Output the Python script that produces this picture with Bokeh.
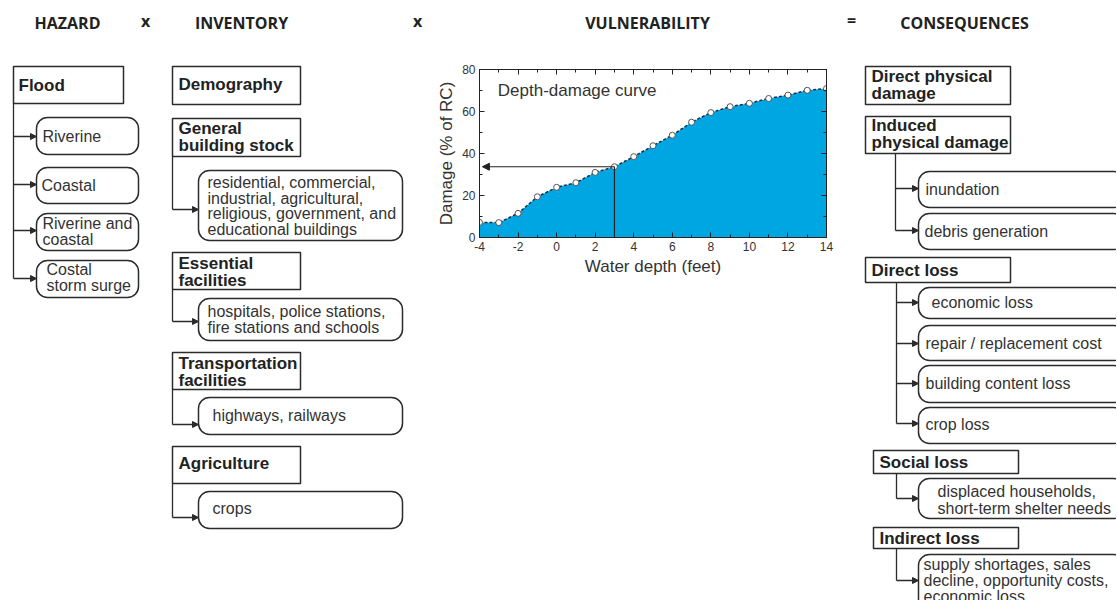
from bokeh.plotting import figure
from bokeh.layouts import column, row
from bokeh.models import Range1d, LinearAxis, Arrow, NormalHead, FixedTicker, ColumnDataSource
from bokeh.embed import file_html
from bokeh.resources import INLINE
from bokeh.core.properties import value

# ---------------- data ----------------
DEPTH_FT = [-4, -3, -2, -1, 0, 1, 2, 3, 4, 5, 6, 7, 8, 9, 10, 11, 12, 13, 14]
DAMAGE_PCT = [7.2, 7.1, 11.5, 19.4, 23.9, 26.1, 31.0, 33.7, 38.5, 43.7, 48.7,
              54.9, 59.5, 62.3, 63.9, 66.2, 67.8, 70.1, 70.9]
X_TICKS = [-4, -2, 0, 2, 4, 6, 8, 10, 12, 14]
X_TICK_LABELS = ["-4", "-2", "0", "2", "4", "6", "8", "10", "12", "14"]
Y_TICKS = [0, 20, 40, 60, 80]
Y_MINOR = [10, 30, 50, 70]
EXAMPLE_DEPTH = 3
CURVE_LABEL = "Depth-damage curve"
X_LABEL = "Water depth (feet)"
Y_LABEL = "Damage (% of RC)"

HEADERS = ["HAZARD", "x", "INVENTORY", "x", "VULNERABILITY", "=", "CONSEQUENCES"]

HAZARD_TITLE = ["Flood"]
HAZARD_TYPES = [["Riverine"], ["Coastal"], ["Riverine and", "coastal"], ["Costal", "storm surge"]]

INVENTORY_GROUPS = [["Demography"], ["General", "building stock"], ["Essential", "facilities"],
                    ["Transportation", "facilities"], ["Agriculture"]]
INVENTORY_ITEMS = [["residential, commercial,", "industrial, agricultural,",
                    "religious, government, and", "educational buildings"],
                   ["hospitals, police stations,", "fire stations and schools"],
                   ["highways, railways"],
                   ["crops"]]

CONSEQUENCE_GROUPS = [["Direct physical", "damage"], ["Induced", "physical damage"],
                      ["Direct loss"], ["Social loss"], ["Indirect loss"]]
CONSEQUENCE_ITEMS = [[["inundation"], ["debris generation"]],
                     [["economic loss"], ["repair / replacement cost"],
                      ["building content loss"], ["crop loss"]],
                     [["displaced households,", "short-term shelter needs"]],
                     [["supply shortages, sales", "decline, opportunity costs,", "economic loss"]]]

# ---------------- styles ----------------
INK = "#222222"
LINE = "#2b2b2b"
BOX_FONT = value("Liberation Sans")
HEAD_FONT = value("Open Sans")
BLUE = "#00A6E2"

W_TOTAL = 1116
H_TOTAL = 600
HEAD_H = 40


def new_store():
    return dict(sq=dict(l=[], r=[], t=[], b=[]), rd=dict(l=[], r=[], t=[], b=[]),
                bt=dict(x=[], y=[], text=[]), rt=dict(x=[], y=[], text=[]),
                seg=dict(x0=[], y0=[], x1=[], y1=[]), arr=dict(x0=[], y0=[], x1=[], y1=[]))


def add_box(st, kind, l, t, r, b, lines, tx, ty0, dy):
    box = st["sq" if kind == "sq" else "rd"]
    box["l"].append(l); box["r"].append(r); box["t"].append(t); box["b"].append(b)
    txt = st["bt" if kind == "sq" else "rt"]
    for i, s in enumerate(lines):
        txt["x"].append(tx); txt["y"].append(ty0 + i * dy); txt["text"].append(s)


def add_branch(st, x, y_top, arrow_ys, x_end):
    s = st["seg"]
    s["x0"].append(x); s["y0"].append(y_top); s["x1"].append(x); s["y1"].append(max(arrow_ys))
    a = st["arr"]
    for y in arrow_ys:
        a["x0"].append(x); a["y0"].append(y); a["x1"].append(x_end); a["y1"].append(y)


def render(p, st):
    p.quad(left="l", right="r", top="t", bottom="b", source=ColumnDataSource(st["sq"]),
           fill_color="white", line_color=LINE, line_width=1.5)
    p.quad(left="l", right="r", top="t", bottom="b", source=ColumnDataSource(st["rd"]),
           fill_color="white", line_color=LINE, line_width=1.5, border_radius=11)
    p.segment(x0="x0", y0="y0", x1="x1", y1="y1", source=ColumnDataSource(st["seg"]),
              line_color=LINE, line_width=1.3)
    p.add_layout(Arrow(source=ColumnDataSource(st["arr"]), x_start="x0", y_start="y0",
                       x_end="x1", y_end="y1", line_color=LINE, line_width=1.3,
                       end=NormalHead(size=6, line_color=LINE, fill_color=LINE, line_width=1)))
    p.text(x="x", y="y", text="text", source=ColumnDataSource(st["bt"]), text_font=BOX_FONT,
           text_font_style="bold", text_font_size="17px", text_color=INK,
           text_baseline="middle", text_align="left")
    p.text(x="x", y="y", text="text", source=ColumnDataSource(st["rt"]), text_font=BOX_FONT,
           text_font_size="16px", text_color="#333333", text_baseline="middle", text_align="left")


def blank_fig(x0, x1, y0, y1):
    f = figure(width=x1 - x0, height=y1 - y0, x_range=Range1d(x0, x1), y_range=Range1d(y1, y0),
               x_axis_type=None, y_axis_type=None, toolbar_location=None, output_backend="svg",
               min_border=0, frame_align=False)
    f.outline_line_color = None
    f.background_fill_color = "white"
    f.border_fill_color = "white"
    return f

# ---------------- header ----------------
head = blank_fig(0, W_TOTAL, 0, HEAD_H)
hx = [67, 145, 241, 417, 647, 851, 964]
hy = [22, 20, 22, 20, 22, 19, 22]
head.text(x=hx, y=hy, text=HEADERS, text_font=HEAD_FONT, text_font_style="bold",
          text_font_size="16px", text_color=INK, text_align="center", text_baseline="middle")

# ---------------- left: hazard + inventory ----------------
LEFT_END = 430
MID_END = 858
left = blank_fig(0, LEFT_END, HEAD_H, H_TOTAL)
L = new_store()
add_box(L, "sq", 13, 66, 123, 103, HAZARD_TITLE, 18, 85, 17)
hz_t = [117, 167, 213, 260]
hz_b = [154, 203, 250, 297]
hz_tx = [42, 41, 42, 46]
hz_ty = [136, 185, 223, 269]
for i, lines in enumerate(HAZARD_TYPES):
    add_box(L, "rd", 36, hz_t[i], 138, hz_b[i], lines, hz_tx[i], hz_ty[i], 16)
add_branch(L, 13, 103, [136, 184, 230, 278], 36)

inv_t = [66, 118, 252, 352, 446]
inv_b = [104, 156, 289, 389, 483]
inv_ty = [84, 128, 263, 363, 463]
for i, lines in enumerate(INVENTORY_GROUPS):
    add_box(L, "sq", 172, inv_t[i], 300, inv_b[i], lines, 178, inv_ty[i], 17)
it_t = [170, 298, 397, 491]
it_b = [240, 340, 434, 528]
it_tx = [207, 207, 212, 212]
it_ty = [182, 311, 415, 508]
arrow_y = [209, 321, 424, 517]
for i, lines in enumerate(INVENTORY_ITEMS):
    add_box(L, "rd", 198, it_t[i], 402, it_b[i], lines, it_tx[i], it_ty[i], 15.7)
    add_branch(L, 172, inv_b[i + 1], [arrow_y[i]], 198)
render(left, L)

# ---------------- middle: depth-damage curve ----------------
FRAME_L, FRAME_R, FRAME_T, FRAME_B = 479, 826, 69, 237
mid = figure(width=MID_END - LEFT_END, height=H_TOTAL - HEAD_H,
             x_range=Range1d(X_TICKS[0], X_TICKS[-1]),
             y_range=Range1d(Y_TICKS[0], Y_TICKS[-1]), toolbar_location=None,
             output_backend="svg", min_border_left=FRAME_L - LEFT_END,
             min_border_right=MID_END - FRAME_R, min_border_top=FRAME_T - HEAD_H,
             min_border_bottom=H_TOTAL - FRAME_B, frame_align=False)
mid.grid.visible = False
mid.outline_line_color = INK
mid.background_fill_color = "white"
mid.border_fill_color = "white"
mid.varea(x=DEPTH_FT, y1=[0] * len(DEPTH_FT), y2=DAMAGE_PCT, fill_color=BLUE, fill_alpha=1.0)
mid.line(DEPTH_FT, DAMAGE_PCT, line_color="#1d2f45", line_width=1.5, line_dash="3 2")
mid.scatter(DEPTH_FT, DAMAGE_PCT, size=6, fill_color="white", line_color="#555555", line_width=1)
ex_y = DAMAGE_PCT[DEPTH_FT.index(EXAMPLE_DEPTH)]
mid.segment(x0=[EXAMPLE_DEPTH], y0=[Y_TICKS[0]], x1=[EXAMPLE_DEPTH], y1=[ex_y],
            line_color=INK, line_width=1.2)
mid.add_layout(Arrow(x_start=EXAMPLE_DEPTH, y_start=ex_y, x_end=X_TICKS[0] + 0.15, y_end=ex_y,
                     line_color=INK, line_width=1.2,
                     end=NormalHead(size=7, line_color=INK, fill_color=INK, line_width=1)))
mid.text(x=[-3.05], y=[70], text=[CURVE_LABEL], text_font=BOX_FONT, text_font_size="17px",
         text_color="#333333", text_baseline="middle", text_align="left")

mid.xaxis.ticker = FixedTicker(ticks=X_TICKS, minor_ticks=DEPTH_FT)
mid.xaxis.major_label_overrides = dict(zip(X_TICKS, X_TICK_LABELS))
mid.yaxis.ticker = FixedTicker(ticks=Y_TICKS, minor_ticks=Y_MINOR)
mid.xaxis.axis_label = X_LABEL
mid.yaxis.axis_label = Y_LABEL
for ax in (mid.xaxis, mid.yaxis):
    ax.major_tick_in = 5
    ax.major_tick_out = 0
    ax.minor_tick_in = 3
    ax.minor_tick_out = 0
    ax.axis_line_color = INK
    ax.major_tick_line_color = INK
    ax.minor_tick_line_color = INK
    ax.major_label_text_font = "Liberation Sans"
    ax.major_label_text_font_size = "12px"
    ax.major_label_text_color = "#333333"
    ax.axis_label_text_font = "Liberation Sans"
    ax.axis_label_text_font_size = "17px"
    ax.axis_label_text_font_style = "normal"
    ax.axis_label_text_color = "#333333"
mid.xaxis.major_label_standoff = 4
mid.xaxis.axis_label_standoff = 3
mid.yaxis.major_label_standoff = 4
mid.yaxis.axis_label_standoff = 3

common = dict(major_label_text_color=None, major_label_text_font_size="8px",
              major_label_standoff=0, major_tick_in=5, major_tick_out=0, minor_tick_in=3,
              minor_tick_out=0, axis_line_color=INK, major_tick_line_color=INK,
              minor_tick_line_color=INK)
top_ax = LinearAxis(ticker=FixedTicker(ticks=X_TICKS, minor_ticks=DEPTH_FT), **common)
right_ax = LinearAxis(ticker=FixedTicker(ticks=Y_TICKS, minor_ticks=Y_MINOR), **common)
mid.add_layout(top_ax, "above")
mid.add_layout(right_ax, "right")

# ---------------- right: consequences ----------------
rightf = blank_fig(MID_END, W_TOTAL, HEAD_H, H_TOTAL)
R = new_store()
cg_box = [(865, 66, 1010, 104), (865, 116, 1010, 153), (865, 257, 1010, 282),
          (873, 450, 1018, 473), (873, 527, 1018, 548)]
cg_tx = [871, 871, 871, 879, 879]
cg_ty = [76, 125, 270, 462, 538]
for i, lines in enumerate(CONSEQUENCE_GROUPS):
    l, t, r, b = cg_box[i]
    add_box(R, "sq", l, t, r, b, lines, cg_tx[i], cg_ty[i], 17)

ci_t = [[171, 213], [287, 325, 365, 407], [478], [554]]
ci_b = [[207, 249], [318, 360, 402, 443], [518], [612]]
ci_tx = [[925, 924], [931, 925, 925, 925], [937], [923]]
ci_ty = [[189, 231], [302, 343, 383, 424], [491], [564]]
ci_arrow = [[188, 230], [302, 343, 383, 423], [498], [580]]
ci_x = [895, 896, 896, 896]
ci_dy = [16, 16, 17, 16]
for g, items in enumerate(CONSEQUENCE_ITEMS):
    for j, lines in enumerate(items):
        add_box(R, "rd", 918, ci_t[g][j], 1124, ci_b[g][j], lines, ci_tx[g][j], ci_ty[g][j], ci_dy[g])
    add_branch(R, ci_x[g], cg_box[g + 1][3], ci_arrow[g], 918)
render(rightf, R)

layout = column(head, row(left, mid, rightf, spacing=0), spacing=0)
open("out.html", "w").write(file_html(layout, INLINE))
